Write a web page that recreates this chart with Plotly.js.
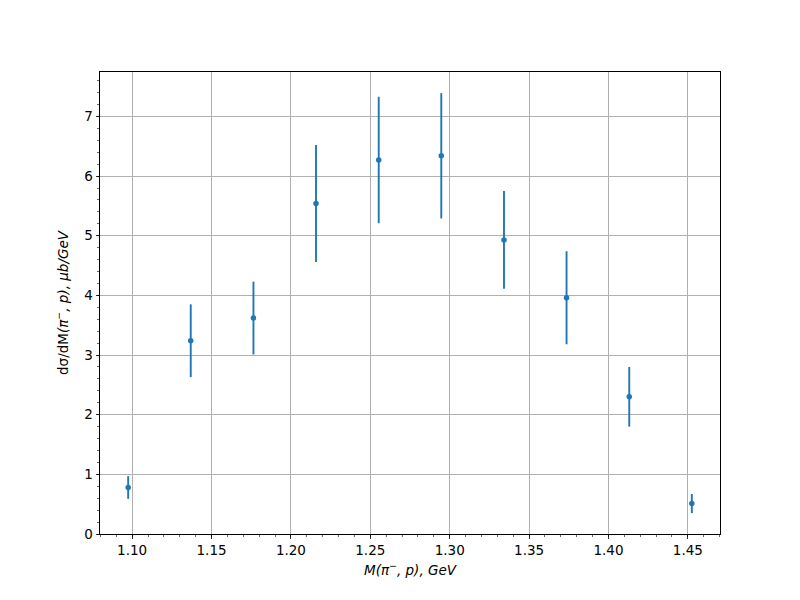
<!DOCTYPE html>
<html>
<head>
<meta charset="utf-8">
<script src="https://cdn.plot.ly/plotly-3.0.1.min.js"></script>
<style>body{margin:0;background:#fff;} #chart{width:800px;height:600px;}</style>
</head>
<body>
<div id="chart"></div>
<script>
const massGeV = [1.0975, 1.1369, 1.1764, 1.2158, 1.2553, 1.2947, 1.3342, 1.3736, 1.4131, 1.4525];
const dsigma  = [0.78, 3.24, 3.62, 5.54, 6.27, 6.34, 4.93, 3.96, 2.30, 0.51];
const dsigmaErr = [0.19, 0.61, 0.61, 0.98, 1.06, 1.05, 0.82, 0.78, 0.50, 0.16];
const xTickVals = [1.10, 1.15, 1.20, 1.25, 1.30, 1.35, 1.40, 1.45];
const xTickText = ['1.10', '1.15', '1.20', '1.25', '1.30', '1.35', '1.40', '1.45'];
const yTickVals = [0, 1, 2, 3, 4, 5, 6, 7];

const font = {family: 'DejaVu Sans', size: 13.5, color: '#000'};

const trace = {
  x: massGeV,
  y: dsigma,
  type: 'scatter',
  mode: 'markers',
  marker: {color: '#1f77b4', size: 5.5},
  error_y: {type: 'data', array: dsigmaErr, visible: true, color: '#1f77b4', thickness: 1.9, width: 0},
  hoverinfo: 'x+y'
};

const axisCommon = {
  showline: true, linecolor: '#000', linewidth: 1, mirror: true,
  ticks: 'outside', ticklen: 3.5, tickwidth: 0.8, tickcolor: '#000',
  showgrid: true, gridcolor: '#b0b0b0', gridwidth: 1,
  zeroline: false, tickfont: font
};

const layout = {
  width: 800, height: 600,
  margin: {l: 100, r: 80, t: 72, b: 66},
  paper_bgcolor: '#fff', plot_bgcolor: '#fff',
  showlegend: false,
  font: font,
  xaxis: Object.assign({}, axisCommon, {
    range: [1.07975, 1.47025],
    tickmode: 'array', tickvals: xTickVals, ticktext: xTickText,
    minor: {ticks: 'outside', ticklen: 2, tickwidth: 0.6, tickcolor: '#000', dtick: 0.01, tick0: 1.0, showgrid: false},
    title: {text: '<i>M(π<sup>−</sup>, p), GeV</i>', font: font, standoff: 8}
  }),
  yaxis: Object.assign({}, axisCommon, {
    range: [0, 7.745],
    tickmode: 'array', tickvals: yTickVals,
    minor: {ticks: 'outside', ticklen: 2, tickwidth: 0.6, tickcolor: '#000', dtick: 0.2, tick0: 0, showgrid: false},
    title: {text: 'dσ/dM<i>(π<sup>−</sup>, p), μb/GeV</i>', font: font, standoff: 12}
  })
};

Plotly.newPlot('chart', [trace], layout, {displayModeBar: false, staticPlot: true});
</script>
</body>
</html>
